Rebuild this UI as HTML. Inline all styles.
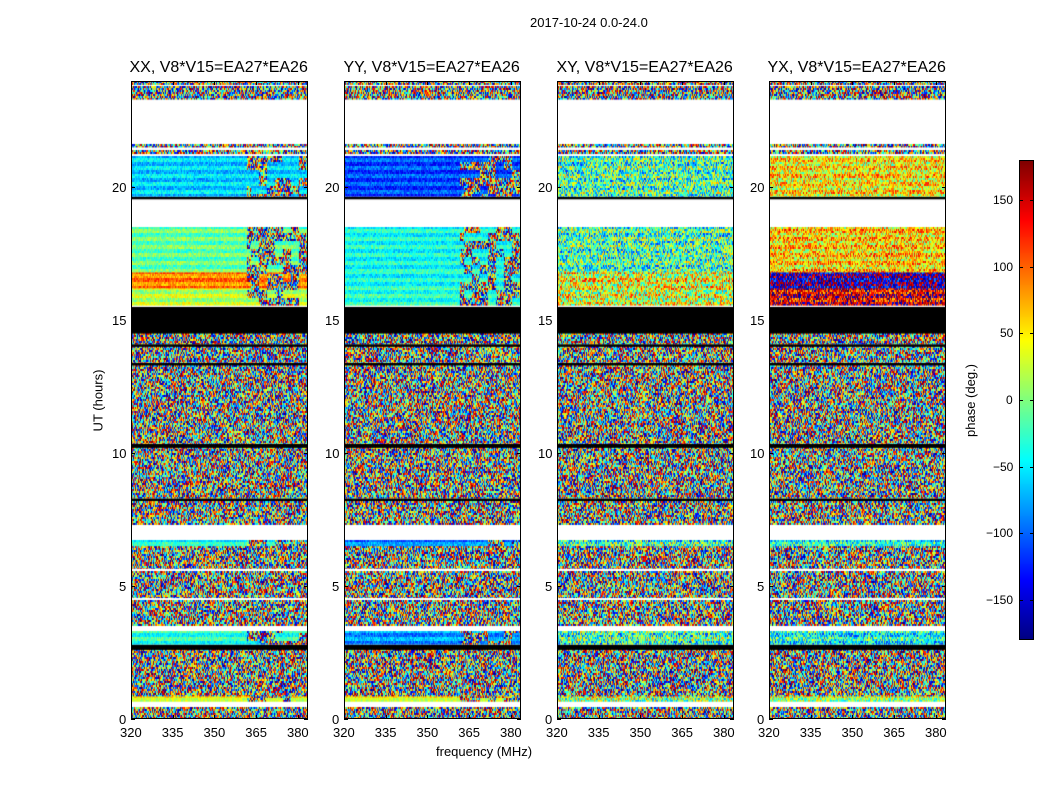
<!DOCTYPE html>
<html><head><meta charset="utf-8">
<style>
body{margin:0;background:#fff;font-family:"Liberation Sans",sans-serif;}
#root{position:relative;width:1050px;height:800px;overflow:hidden;background:#fff;}
.t{position:absolute;white-space:nowrap;color:#000;}
canvas{position:absolute;z-index:1;}
#ax{z-index:5;}
</style></head><body>
<div id="root">
<svg id="ax" width="1050" height="800" style="position:absolute;left:0;top:0"></svg>
</div>
<script>
// ---- data ----
const panelTitles = ["XX, V8*V15=EA27*EA26","YY, V8*V15=EA27*EA26","XY, V8*V15=EA27*EA26","YX, V8*V15=EA27*EA26"];
const xTicks = [320,335,350,365,380];
const yTicks = [0,5,10,15,20];
const cbTicks = [150,100,50,0,-50,-100,-150];
// time bands (hours)
const bandStart = [0.0,0.45,0.65,0.85,2.6,2.8,3.3,3.5,4.45,4.55,5.55,5.65,6.5,6.7,7.3,8.2,8.3,10.2,10.35,13.3,13.4,14.0,14.1,14.5,15.5,15.55,16.2,16.8,18.5,19.55,19.65,21.15,21.25,21.4,21.5,21.6,23.3,23.8,23.85];
const bandEnd   = [0.45,0.65,0.85,2.6,2.8,3.3,3.5,4.45,4.55,5.55,5.65,6.5,6.7,7.3,8.2,8.3,10.2,10.35,13.3,13.4,14.0,14.1,14.5,15.5,15.55,16.2,16.8,18.5,19.55,19.65,21.15,21.25,21.4,21.5,21.6,23.3,23.8,23.85,24.0];
const bandKind  = ["n","w","s","n","b","s","w","n","w","n","w","n","s","w","n","b","n","b","n","b","n","b","n","b","w","s","s","s","w","b","s","w","n","w","n","w","n","w","n"];
// mean phase of smooth bands per panel (index matches band)
const smoothXX = {2:40,5:-30,12:-40,25:20,26:90,27:-10,30:-60};
const smoothYY = {2:40,5:-80,12:-90,25:-30,26:-40,27:-40,30:-110};
const smoothXY = {2:20,5:-20,12:-30,25:30,26:40,27:-20,30:-20};
const smoothYX = {2:20,5:-40,12:-40,25:140,26:-160,27:60,30:50};
const smoothByPanel = [smoothXX,smoothYY,smoothXY,smoothYX];
const jitterByPanel = [25,25,90,70];

const PL=[131,344,557,769], PT=81, PW=177, PH=638;
const fmin=320,fmax=383.6;
function xs(f,i){return PL[i]+(f-fmin)/(fmax-fmin)*PW;}
function ys(h){return PT+PH*(1-h/24);}
function jet(v){
  function c(x){return Math.max(0,Math.min(1,x));}
  const r=c(1.5-Math.abs(4*v-3)),g=c(1.5-Math.abs(4*v-2)),b=c(1.5-Math.abs(4*v-1));
  return `rgb(${r*255|0},${g*255|0},${b*255|0})`;
}
function hsh(a,b,c){let h=(a*374761393+b*668265263+c*2147483647)|0;h=(h^(h>>>13))*1274126177|0;h=h^(h>>>16);return ((h>>>0)%10000)/10000;}
function pcol(p){return jet((p+180)/360);}

const root=document.getElementById('root');
const svg=document.getElementById('ax');
const NS="http://www.w3.org/2000/svg";
function txt(s,x,y,size,anchor,name,rot){
  const d=document.createElement('div');d.className='t';d.textContent=s;
  d.style.fontSize=size+'px';
  
  
  root.appendChild(d);
  const w=d.offsetWidth,h=d.offsetHeight;
  let lx=x,ly=y-h/2;
  if(anchor==='m')lx=x-w/2;else if(anchor==='e')lx=x-w;
  d.style.left=lx+'px';d.style.top=ly+'px';
  if(rot){d.style.left=(x-w/2)+'px';d.style.transform='rotate(-90deg)';}
}
txt("2017-10-24 0.0-24.0",589,22,13,'m','figure-title');
for(let i=0;i<4;i++){
  const cv=document.createElement('canvas');cv.width=PW;cv.height=PH;
  cv.style.left=PL[i]+'px';cv.style.top=PT+'px';
  
  
  root.appendChild(cv);
  const ctx=cv.getContext('2d');
  ctx.fillStyle='#fff';ctx.fillRect(0,0,PW,PH);
  const cw=1,ch=2;
  for(let b=0;b<bandStart.length;b++){
    const y0=ys(bandEnd[b])-PT,y1=ys(bandStart[b])-PT;
    const k=bandKind[b];
    if(k==='w')continue;
    if(k==='b'){ctx.fillStyle='#000';ctx.fillRect(0,y0,PW,Math.max(1.5,y1-y0));continue;}
    const mean=smoothByPanel[i][b];
    for(let y=Math.floor(y0);y<y1;y+=ch){
      for(let x=0;x<PW;x+=cw){
        let p;
        if(k==='n') p=hsh(x,y,i+1)*360-180;
        else{
          const right=x>PW*0.65&&(i<2)&&hsh(x>>3,y>>3,i+7)>0.4;
          if(right) p=hsh(x,y,i+3)*360-180;
          else{p=mean+(hsh(x,y,i+5)-0.5)*jitterByPanel[i]*2+((y>>2)%2?15:-15);
            if(p>180)p-=360;if(p<-180)p+=360;}
        }
        ctx.fillStyle=pcol(p);ctx.fillRect(x,y,cw,Math.min(ch,y1-y));
      }
    }
  }
  const r=document.createElementNS(NS,'rect');
  r.setAttribute('x',PL[i]+0.5);r.setAttribute('y',PT+0.5);r.setAttribute('width',PW-1);r.setAttribute('height',PH-1);
  r.setAttribute('fill','none');r.setAttribute('stroke','#000');
  
  
  svg.appendChild(r);
  for(const f of xTicks){
    const l=document.createElementNS(NS,'path');const x=Math.round(xs(f,i))+0.5;
    l.setAttribute('d',`M${x} ${PT+PH}v-4M${x} ${PT}v4`);l.setAttribute('stroke','#000');
    
    
    svg.appendChild(l);
    txt(String(f),xs(f,i),732,13,'m','x-tick-label');
  }
  for(const h of yTicks){
    const l=document.createElementNS(NS,'path');const y=Math.round(ys(h))+0.5;
    l.setAttribute('d',`M${PL[i]} ${y}h4M${PL[i]+PW} ${y}h-4`);l.setAttribute('stroke','#000');
    
    
    svg.appendChild(l);
    txt(String(h),PL[i]-5,ys(h),13,'e','y-tick-label');
  }
  txt(panelTitles[i],PL[i]+PW/2-1,68,16,'m','panel-title-'+i);
}
txt("frequency (MHz)",484,751,13,'m','x-axis-title');
txt("UT (hours)",98,400,13,'m','y-axis-title',true);
// colorbar
const CBX=1019,CBT=160,CBW=15,CBH=480;
const cb=document.createElement('canvas');cb.width=CBW;cb.height=CBH;
cb.style.left=CBX+'px';cb.style.top=CBT+'px';


root.appendChild(cb);
const cc=cb.getContext('2d');
for(let y=0;y<CBH;y++){cc.fillStyle=jet(1-y/CBH);cc.fillRect(0,y,CBW,1);}
const cr=document.createElementNS(NS,'rect');
cr.setAttribute('x',CBX+0.5);cr.setAttribute('y',CBT+0.5);cr.setAttribute('width',CBW-1);cr.setAttribute('height',CBH-1);
cr.setAttribute('fill','none');cr.setAttribute('stroke','#000');


svg.appendChild(cr);
function cby(p){return CBT+CBH*(180-p)/360;}
for(const p of cbTicks){
  const l=document.createElementNS(NS,'path');const y=Math.round(cby(p))+0.5;
  l.setAttribute('d',`M${CBX} ${y}h4M${CBX+CBW} ${y}h-4`);l.setAttribute('stroke','#000');
  
  
  svg.appendChild(l);
  txt(String(p).replace('-','\u2212'),1013,cby(p),12,'e','colorbar-tick-label');
}
txt("phase (deg.)",970,400,13,'m','colorbar-title',true);
</script>
</body></html>
